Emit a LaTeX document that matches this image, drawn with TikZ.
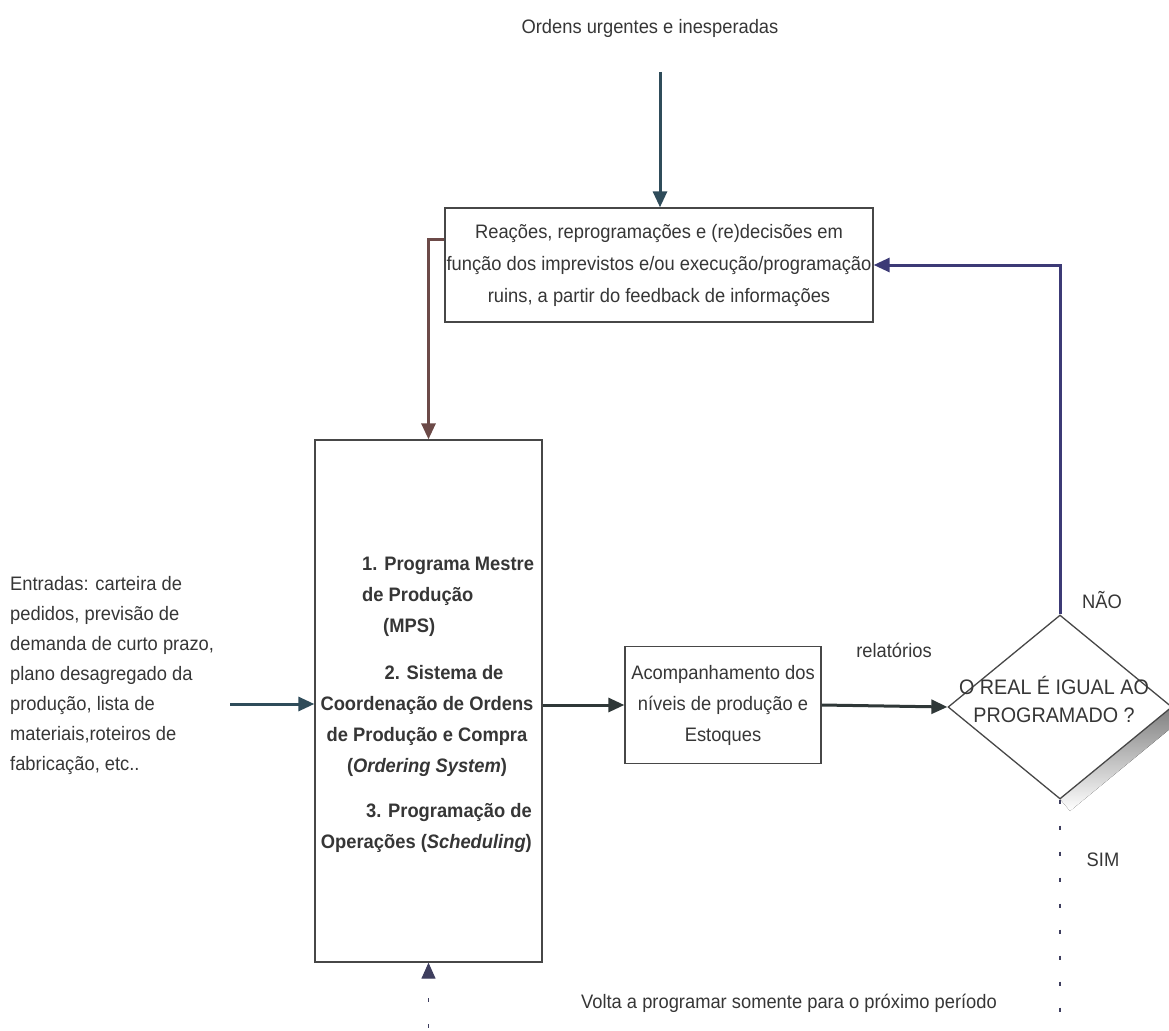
\documentclass[tikz,border=0pt]{standalone}
\usepackage{fontspec}
\setmainfont{Liberation Sans}[FakeStretch=0.94]
\usetikzlibrary{arrows.meta,shapes.geometric,calc}
\definecolor{ink}{HTML}{363636}
\definecolor{boxline}{HTML}{474747}
\definecolor{slate}{HTML}{2F4C5A}
\definecolor{brownline}{HTML}{6C4A48}
\definecolor{navy}{HTML}{3C3A76}
\definecolor{darkline}{HTML}{2F3838}
\definecolor{shade}{HTML}{7D7999}
\definecolor{dotline}{HTML}{3E3E5E}
\begin{document}
\begin{tikzpicture}[x=1pt,y=-1pt,
  txt/.style={font=\fontsize{19.5}{31}\selectfont, text=ink, inner sep=0pt},
  itm/.style={txt, font=\fontsize{19.5}{31}\selectfont\bfseries},
  boxed/.style={draw=boxline, line width=1.3pt, fill=white},
  flow/.style={line width=3pt, -{Triangle[length=16pt,width=14pt]}},
  dots/.style={line width=1.3pt, dash pattern=on 4pt off 22pt}
]
\useasboundingbox (0,0) rectangle (1169,1030);

% incoming urgent orders
\node[txt] (orders) at (650,28) {Ordens urgentes e inesperadas};
\coordinate (ordtail) at (660,72);

% reaction box
\node[boxed, txt, align=center, minimum width=428pt, minimum height=114pt,
      font=\fontsize{19.5}{32}\selectfont] (react) at (659,265)
  {Reações, reprogramações e (re)decisões em\\
   função dos imprevistos e/ou execução/programação\\
   ruins, a partir do feedback de informações};
\draw[flow, slate] (ordtail) -- (ordtail |- react.north);

% planning box
\node[boxed, minimum width=227pt, minimum height=522pt, inner sep=0pt] (mps) at (428.5,701) {};
\node[itm, align=left, anchor=west] (item1) at (362,597)
  {1. Programa Mestre\\de Produção\\\hspace*{21pt}(MPS)};
\node[itm, align=center] (item2) at (427,721)
  {\hspace*{34pt}2. Sistema de\\Coordenação de Ordens\\de Produção e Compra\\(\textit{Ordering System})};
\node[itm, align=right, anchor=east] (item3) at (532,828)
  {3. Programação de\\Operações (\textit{Scheduling})};

\draw[flow, brownline] ($(react.north west)+(0,32)$) -| (mps.north);

% inputs
\node[txt, align=left, anchor=west, font=\fontsize{19.5}{30}\selectfont] (inputs) at (10,675)
  {Entradas: carteira de\\pedidos, previsão de\\demanda de curto prazo,\\plano desagregado da\\produção, lista de\\materiais,roteiros de\\fabricação, etc..};
\coordinate (intail) at (230,704);
\draw[flow, slate] (intail) -- (intail -| mps.west);

% monitoring box
\node[boxed, txt, align=center, minimum width=196pt, minimum height=117pt] (track) at (723,705)
  {Acompanhamento dos\\níveis de produção e\\Estoques};
\draw[flow, darkline] (mps.east |- track.west) -- (track.west);

% decision with its drop shadow on the lower right edge
\coordinate (dc) at (1060,707);
\fill[shade] ($(dc)+(0,92)$) -- ($(dc)+(112,0)$) -- ++(10,12) -- ($(dc)+(10,104)$) -- cycle;
\node[diamond, draw=boxline, line width=1.3pt, fill=white, minimum width=224pt,
      minimum height=184pt, inner sep=0pt] (check) at (dc) {};
\node[txt, align=center, font=\fontsize{21}{28}\selectfont] (question) at (1054,699)
  {O REAL É IGUAL AO\\PROGRAMADO ?};
\draw[flow, darkline] (track.east) -- (check.west);
\node[txt] (reports) at (894,650) {relatórios};

% answer "no": feedback to the reaction box
\draw[flow, navy] (check.north) |- (react.east);
\node[txt] (no) at (1102,600) {NÃO};

% answer "yes": back to planning next period
\node[txt] (yes) at (1103,860) {SIM};
\coordinate (c1) at (1060,1040);
\coordinate (c2) at (428.5,1040);
\draw[dots, dotline, -{Triangle[length=16pt,width=14pt]}] (check.south) -- (c1) -- (c2) -- (mps.south);
\node[txt] (again) at (789,1003) {Volta a programar somente para o próximo período};
\end{tikzpicture}
\end{document}
